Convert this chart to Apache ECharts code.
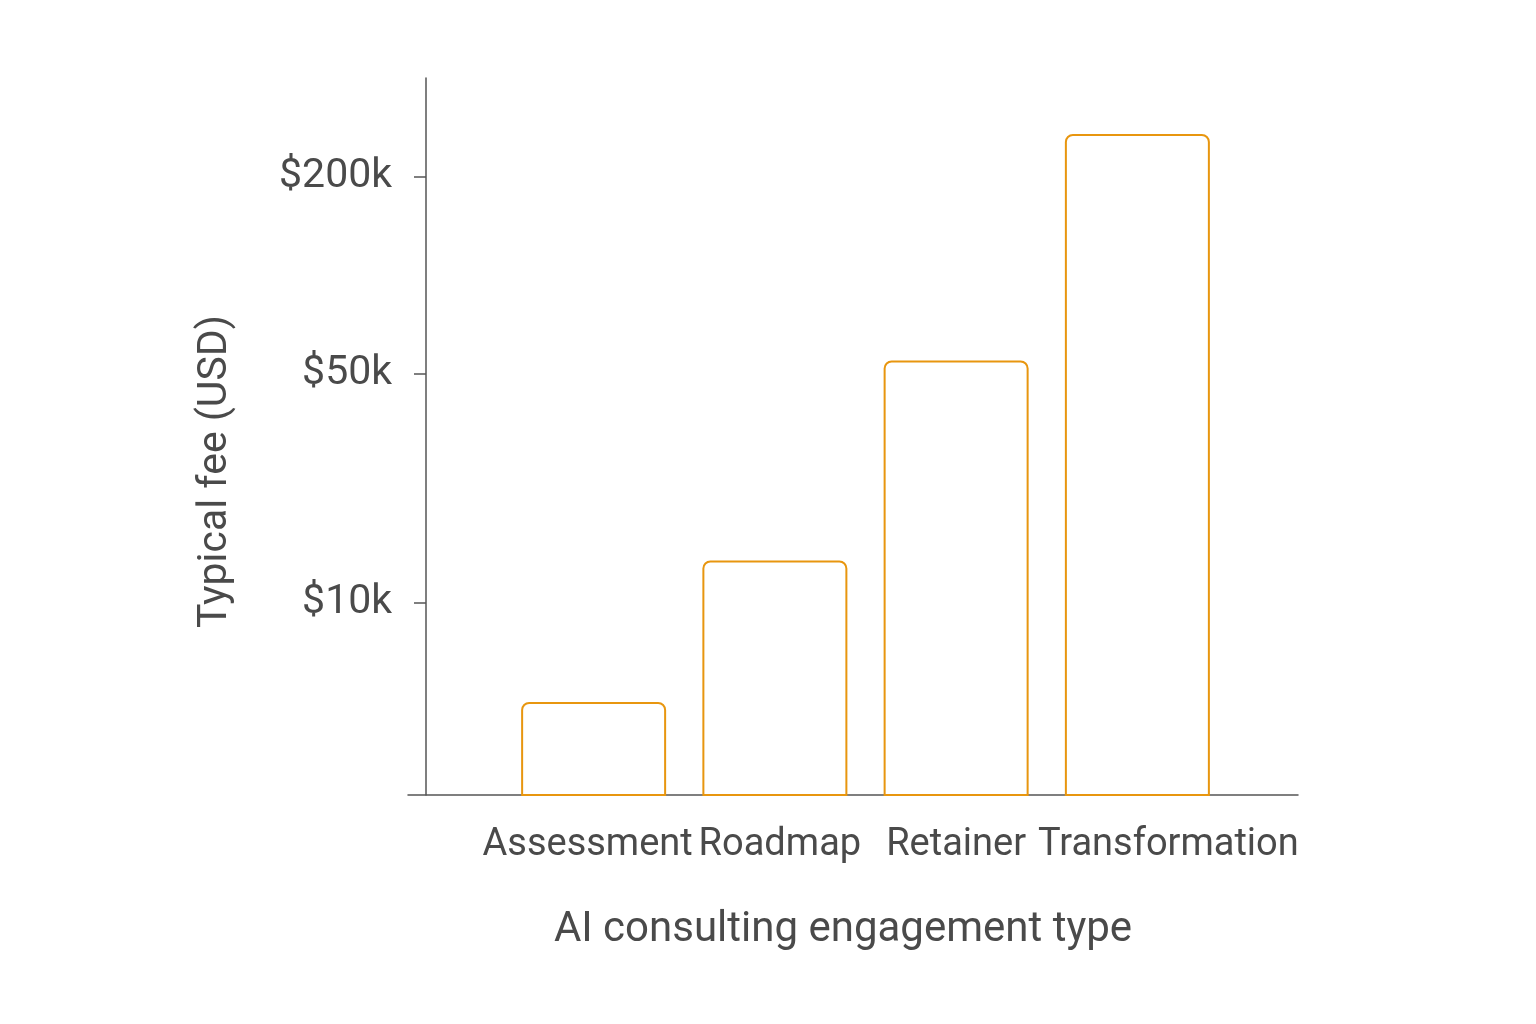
<!DOCTYPE html>
<html lang="en" style="height: 100%">
<head>
  <meta charset="utf-8">
</head>
<body style="height: 100%; margin: 0; background: #fff">
  <div id="container" style="height: 100%"></div>

  <script type="text/javascript" src="https://fastly.jsdelivr.net/npm/echarts@6/dist/echarts.min.js"></script>

  <script type="text/javascript">
    var categories = ['Assessment', 'Roadmap', 'Retainer', 'Transformation'];
    var fees = [5000, 13500, 55000, 270000];
    var tickValues = [10000, 50000, 200000];

    var dom = document.getElementById('container');
    var myChart = echarts.init(dom, null, { renderer: 'canvas' });

    var axisColor = '#555';
    var textColor = '#4a4a4a';
    var font = 'Roboto';

    // category labels in the original sit slightly off their bars
    var labelStyles = {
      c0: { fontSize: 38, color: textColor, fontFamily: font, padding: [0, 12, 0, 0] },
      c1: { fontSize: 38, color: textColor, fontFamily: font, padding: [0, 0, 0, 10] },
      c2: { fontSize: 38, color: textColor, fontFamily: font },
      c3: { fontSize: 38, color: textColor, fontFamily: font, padding: [0, 0, 0, 62] }
    };

    var option = {
      backgroundColor: '#fff',
      textStyle: { fontFamily: font },
      grid: [
        // outer grid: only carries the long baseline
        { left: 408, right: 238, top: 78, bottom: 229 },
        // inner grid: bars
        { left: 503, right: 308, top: 78, bottom: 229 }
      ],
      xAxis: [
        {
          gridIndex: 0,
          type: 'category',
          data: categories,
          axisLine: { lineStyle: { color: axisColor, width: 1.5 } },
          axisTick: { show: false },
          axisLabel: { show: false },
          name: 'AI consulting engagement type',
          nameLocation: 'middle',
          nameGap: 114,
          nameTextStyle: { fontSize: 42, color: textColor, fontFamily: font, padding: [0, 20, 0, 0] }
        },
        {
          gridIndex: 1,
          type: 'category',
          data: categories,
          axisLine: { show: false },
          axisTick: { show: false },
          axisLabel: {
            interval: 0,
            fontSize: 38,
            color: textColor,
            margin: 31,
            fontFamily: font,
            formatter: function (v, i) { return '{c' + i + '|' + v + '}'; },
            rich: labelStyles
          }
        }
      ],
      yAxis: [
        {
          gridIndex: 0,
          type: 'value',
          show: false
        },
        {
          gridIndex: 1,
          type: 'log',
          min: 2600,
          max: 400000,
          offset: 77,
          splitLine: { show: false },
          axisLine: { show: true, lineStyle: { color: axisColor, width: 1.5 } },
          axisTick: { show: true, length: 12, customValues: tickValues, lineStyle: { color: axisColor, width: 1.5 } },
          axisLabel: {
            customValues: tickValues,
            fontSize: 41,
            color: textColor,
            margin: 34,
            fontFamily: font,
            formatter: function (v) { return '$' + Math.round(v / 1000) + 'k'; }
          },
          name: 'Typical fee (USD)',
          nameLocation: 'middle',
          nameGap: 190,
          nameTextStyle: { fontSize: 41, color: textColor, fontFamily: font, padding: [0, 70, 0, 0] }
        }
      ],
      series: [
        {
          type: 'bar',
          xAxisIndex: 1,
          yAxisIndex: 1,
          data: fees,
          barWidth: 145,
          itemStyle: {
            color: '#fff',
            borderColor: '#E8960F',
            borderWidth: 2,
            borderRadius: [7, 7, 0, 0]
          },
          silent: true
        }
      ]
    };

    myChart.setOption(option);
    window.addEventListener('resize', myChart.resize);
  </script>
</body>
</html>
